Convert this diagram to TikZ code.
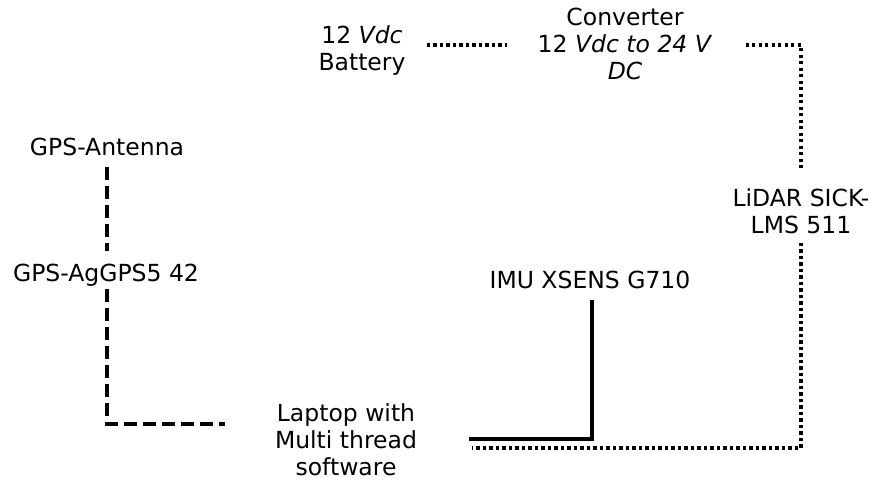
\documentclass[tikz,border=0pt]{standalone}
\usepackage{fontspec}
\setmainfont{DejaVu Sans}
\begin{document}
\begin{tikzpicture}[x=1pt,y=-1pt,
  lbl/.style={inner sep=0pt,align=center,font=\fontsize{23.5}{27}\selectfont},
  dotline/.style={line width=3.8pt,dash pattern=on 3.4pt off 3.1pt},
  dashline/.style={line width=4.5pt,dash pattern=on 13pt off 6pt},
  solidline/.style={line width=4pt}]
\useasboundingbox (0,0) rectangle (874,481);
\node[lbl] (batt) at (362,51) {12 \textit{Vdc}\\Battery};
\node[lbl] (conv) at (625,44) {Converter\\12 \textit{Vdc to 24 V}\\\textit{DC}};
\node[lbl] (lidar) at (801,211) {LiDAR SICK-\\LMS 511};
\node[lbl] (imu) at (590,280) {IMU XSENS G710};
\node[lbl] (laptop) at (346,440) {Laptop with\\Multi thread\\software};
\node[lbl] (ant) at (107,147) {GPS-Antenna};
\node[lbl] (rec) at (106,275) {GPS-AgGPS5 42};
\draw[dotline] ([xshift=21pt]batt.east |- 0,45) -- ([xshift=-30pt]conv.west |- 0,45);
\draw[dotline] ([xshift=33pt]conv.east |- 0,45) -| ([yshift=18pt]lidar.north);
\draw[dotline] ([yshift=-9pt]lidar.south) |- ([xshift=55pt]laptop.east |- 0,448);
\draw[solidline] ([yshift=-11pt]imu.south -| 592,0) |- ([xshift=52pt]laptop.east |- 0,439);
\draw[dashline] ([yshift=-11pt]ant.south) -- ([yshift=13pt]rec.north -| ant.south);
\draw[dashline] ([yshift=-3pt]rec.south -| ant.south) |- ([xshift=-50pt]laptop.west |- 0,424);
\end{tikzpicture}
\end{document}
